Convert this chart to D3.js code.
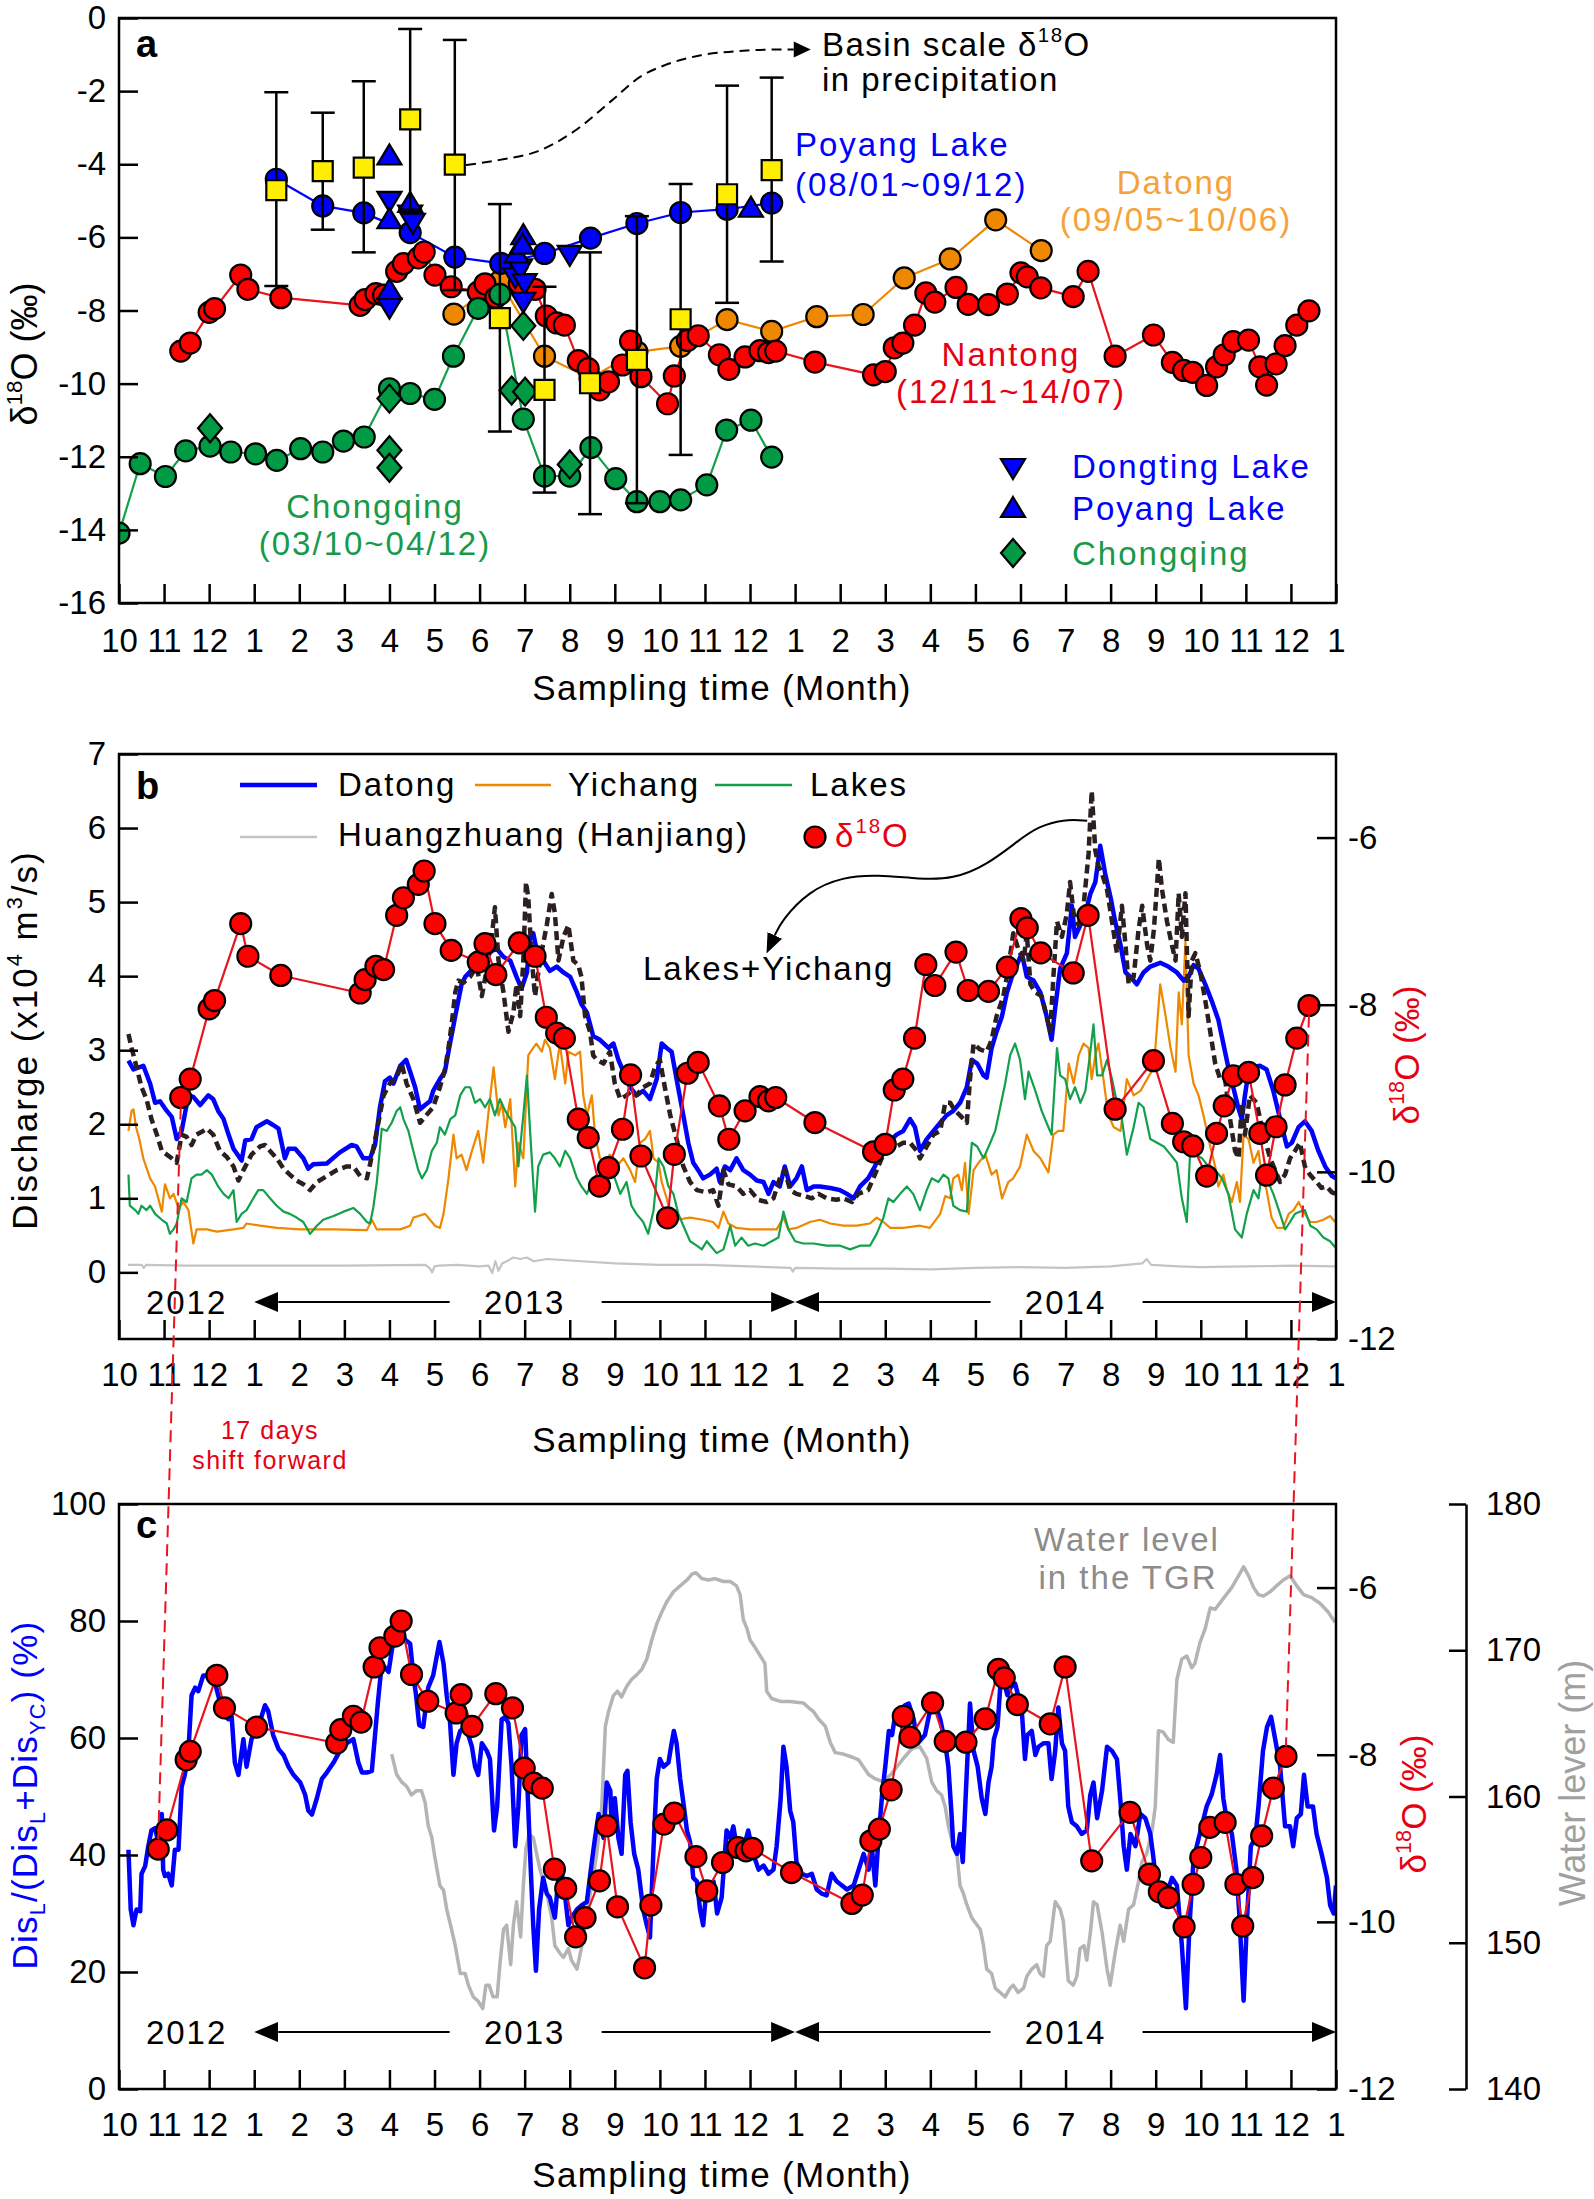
<!DOCTYPE html>
<html><head><meta charset="utf-8"><title>d18O chart</title>
<script src="https://cdn.jsdelivr.net/npm/d3@7/dist/d3.min.js"></script>
<style>html,body{margin:0;padding:0;background:#fff;}svg{display:block}</style>
</head><body>
<svg id="chart" width="1594" height="2199" xmlns="http://www.w3.org/2000/svg"></svg>
<script>
// ================= DATA (x = months since 1 Oct 2012) =================
const monthLabels = [10,11,12,1,2,3,4,5,6,7,8,9,10,11,12,1,2,3,4,5,6,7,8,9,10,11,12,1];
const yearSpans = [["2012",0,3,false],["2013",3,15,true],["2014",15,27,true]];

// ---- panel a ----
const aChongqing = [[0,-14.09],[0.47,-12.19],[1.03,-12.54],[1.48,-11.84],[2.02,-11.71],[2.48,-11.87],[3.03,-11.92],[3.5,-12.1],[4.03,-11.78],[4.52,-11.87],[4.98,-11.57],[5.44,-11.46],[6.0,-10.14],[6.46,-10.27],[7.0,-10.43],[7.42,-9.25],[7.97,-7.94],[8.45,-7.56],[8.97,-10.97],[9.44,-12.53],[10.0,-12.53],[10.47,-11.75],[11.02,-12.6],[11.49,-13.23],[12.0,-13.23],[12.46,-13.18],[13.04,-12.77],[13.48,-11.27],[14.02,-11.0],[14.48,-12.01]];
const aChongqingDiamond = [[2.02,-11.22],[6.0,-10.41],[6.0,-11.82],[6.0,-12.3],[8.97,-8.42],[8.71,-10.19],[9.01,-10.22],[10.0,-12.21]];
const aDatong = [[7.43,-8.1],[8.45,-7.2],[9.44,-9.25],[10.45,-9.85],[11.49,-9.13],[12.46,-8.98],[13.49,-8.25],[14.48,-8.57],[15.48,-8.17],[16.51,-8.11],[17.42,-7.11],[18.44,-6.59],[19.45,-5.52],[20.46,-6.36]];
const aPoyang = [[3.49,-4.41],[4.52,-5.14],[5.43,-5.33],[6.46,-5.87],[7.45,-6.54],[8.47,-6.71],[9.44,-6.44],[10.46,-6.02],[11.49,-5.62],[12.46,-5.32],[13.49,-5.23],[14.48,-5.06]];
const aPoyangTri = [[6.0,-3.76],[6.0,-5.5],[6.46,-5.06],[6.0,-7.44],[8.97,-5.94],[8.82,-6.44],[8.95,-6.2],[14.02,-5.19]];
const aDongtingTri = [[6.0,-5.0],[6.46,-5.38],[6.52,-5.6],[6.0,-7.92],[8.79,-7.09],[8.9,-6.85],[9.0,-7.25],[8.97,-7.76],[10.0,-6.48]];
// basin precipitation: [month, mean, low, high]
const aPrecip = [[3.49,-4.71,-7.33,-2.03],[4.52,-4.19,-5.79,-2.59],[5.43,-4.09,-6.41,-1.73],[6.46,-2.77,-5.24,-0.3],[7.45,-4.01,-7.44,-0.6],[8.45,-8.21,-11.31,-5.09],[9.44,-10.17,-12.98,-7.35],[10.45,-9.99,-13.57,-6.41],[11.49,-9.35,-13.27,-5.42],[12.46,-8.24,-11.95,-4.54],[13.49,-4.82,-7.79,-1.85],[14.48,-4.16,-6.66,-1.63]];
// Nantong d18O (panel a and panel b)
const nantong = [[1.37,-9.11],[1.58,-8.89],[2.0,-8.05],[2.12,-7.95],[2.7,-7.03],[2.86,-7.42],[3.59,-7.65],[5.35,-7.86],[5.46,-7.7],[5.7,-7.54],[5.87,-7.58],[6.16,-6.93],[6.31,-6.72],[6.64,-6.56],[6.77,-6.4],[7.01,-7.03],[7.37,-7.35],[7.97,-7.49],[8.12,-7.27],[8.36,-7.64],[8.88,-7.26],[9.23,-7.42],[9.48,-8.15],[9.71,-8.34],[9.88,-8.4],[10.19,-9.37],[10.41,-9.59],[10.66,-10.17],[10.86,-9.95],[11.17,-9.49],[11.35,-8.84],[11.58,-9.81],[12.17,-10.55],[12.32,-9.79],[12.61,-8.82],[12.85,-8.69],[13.32,-9.21],[13.53,-9.61],[13.89,-9.27],[14.22,-9.1],[14.41,-9.15],[14.57,-9.11],[15.44,-9.41],[16.74,-9.76],[17.0,-9.67],[17.2,-9.02],[17.39,-8.89],[17.65,-8.4],[17.9,-7.52],[18.1,-7.77],[18.57,-7.37],[18.84,-7.83],[19.29,-7.84],[19.71,-7.55],[20.01,-6.97],[20.15,-7.08],[20.45,-7.38],[21.17,-7.62],[21.5,-6.93],[22.1,-9.25],[22.95,-8.67],[23.37,-9.42],[23.62,-9.64],[23.82,-9.69],[24.13,-10.05],[24.35,-9.54],[24.52,-9.21],[24.72,-8.85],[25.06,-8.81],[25.31,-9.54],[25.46,-10.04],[25.67,-9.46],[25.87,-8.96],[26.13,-8.4],[26.4,-8.01]];

// ---- panel b (discharge, x10^4 m3/s) ----
const bDatong = [[0.21,2.86],[0.32,2.74],[0.54,2.79],[0.69,2.55],[0.8,2.29],[0.91,2.31],[1.06,2.18],[1.17,2.1],[1.28,1.8],[1.39,1.91],[1.54,2.39],[1.65,2.37],[1.8,2.26],[1.98,2.39],[2.09,2.34],[2.2,2.18],[2.32,2.07],[2.43,1.86],[2.54,1.67],[2.72,1.51],[2.8,1.78],[2.94,1.8],[3.05,1.96],[3.28,2.04],[3.42,1.99],[3.54,1.94],[3.68,1.54],[3.76,1.67],[3.91,1.67],[4.09,1.54],[4.2,1.4],[4.31,1.46],[4.61,1.47],[4.9,1.62],[5.16,1.72],[5.27,1.7],[5.42,1.54],[5.57,1.54],[5.68,1.72],[5.79,2.23],[5.9,2.58],[6.01,2.63],[6.09,2.55],[6.24,2.79],[6.37,2.87],[6.46,2.71],[6.57,2.5],[6.68,2.2],[6.79,2.26],[6.9,2.31],[6.97,2.45],[7.12,2.61],[7.23,2.71],[7.31,2.98],[7.46,3.46],[7.6,3.89],[7.68,3.99],[7.9,4.13],[8.12,4.26],[8.27,4.34],[8.38,4.37],[8.53,4.26],[8.68,4.21],[8.82,3.99],[8.93,3.83],[9.05,4.05],[9.12,4.53],[9.19,4.58],[9.3,4.26],[9.41,4.21],[9.56,4.07],[9.71,4.13],[9.86,4.05],[10.01,3.99],[10.16,3.78],[10.26,3.62],[10.38,3.51],[10.52,3.19],[10.67,3.14],[10.86,3.03],[10.97,3.09],[11.08,2.87],[11.19,2.71],[11.34,2.5],[11.48,2.39],[11.63,2.45],[11.78,2.34],[11.93,2.61],[12.04,3.09],[12.15,3.03],[12.26,2.98],[12.37,2.61],[12.52,2.12],[12.63,1.75],[12.74,1.48],[12.85,1.38],[12.96,1.27],[13.11,1.32],[13.26,1.4],[13.33,1.22],[13.44,1.43],[13.56,1.38],[13.7,1.54],[13.85,1.38],[14.0,1.32],[14.15,1.24],[14.3,1.22],[14.41,1.06],[14.52,1.22],[14.66,1.16],[14.77,1.43],[14.89,1.16],[15.03,1.27],[15.15,1.43],[15.26,1.11],[15.41,1.16],[15.55,1.16],[15.78,1.14],[16.0,1.11],[16.15,1.06],[16.3,1.0],[16.44,1.16],[16.62,1.27],[16.77,1.43],[16.92,1.64],[17.07,1.75],[17.25,1.86],[17.4,1.91],[17.55,2.07],[17.66,1.96],[17.77,1.64],[17.92,1.8],[18.07,1.91],[18.22,2.02],[18.36,2.12],[18.51,2.18],[18.66,2.29],[18.81,2.5],[18.92,2.87],[19.04,2.82],[19.18,2.66],[19.25,2.63],[19.36,3.03],[19.47,3.25],[19.59,3.46],[19.7,3.78],[19.81,3.99],[19.92,4.15],[20.03,4.31],[20.14,3.99],[20.29,3.94],[20.44,3.78],[20.58,3.46],[20.69,3.14],[20.77,3.57],[20.88,4.1],[21.03,4.31],[21.14,4.95],[21.21,4.53],[21.33,4.69],[21.44,4.85],[21.55,5.11],[21.66,5.27],[21.77,5.76],[21.88,5.38],[22.0,5.06],[22.1,4.74],[22.22,4.42],[22.33,4.05],[22.44,3.99],[22.58,3.89],[22.73,4.05],[22.88,4.13],[23.1,4.18],[23.28,4.13],[23.47,4.05],[23.62,3.94],[23.73,3.99],[23.84,4.15],[23.95,4.1],[24.1,3.89],[24.24,3.67],[24.39,3.41],[24.5,3.09],[24.61,2.77],[24.72,2.5],[24.83,2.23],[24.91,2.07],[24.98,2.39],[25.06,2.71],[25.17,2.77],[25.31,2.79],[25.46,2.74],[25.61,2.45],[25.76,2.07],[25.91,1.7],[26.02,1.75],[26.17,1.96],[26.31,2.04],[26.46,1.91],[26.61,1.64],[26.76,1.43],[26.91,1.3],[27.0,1.27]];
const bYichang = [[0.21,1.91],[0.28,2.18],[0.32,2.2],[0.38,1.96],[0.45,1.8],[0.54,1.54],[0.69,1.27],[0.8,1.16],[0.95,0.82],[1.02,1.19],[1.13,1.0],[1.21,1.06],[1.32,0.87],[1.43,0.95],[1.54,0.84],[1.65,0.39],[1.72,0.58],[1.95,0.58],[2.17,0.55],[2.54,0.58],[2.76,0.6],[2.83,0.66],[3.13,0.63],[3.5,0.6],[4.02,0.58],[4.76,0.58],[5.5,0.57],[5.61,0.71],[5.72,0.58],[6.24,0.58],[6.46,0.63],[6.53,0.74],[6.64,0.76],[6.79,0.79],[6.9,0.71],[7.01,0.63],[7.12,0.6],[7.2,0.79],[7.31,1.27],[7.42,1.86],[7.49,1.54],[7.6,1.59],[7.71,1.38],[7.83,1.64],[7.97,1.91],[8.08,1.48],[8.19,2.12],[8.31,2.77],[8.42,2.12],[8.49,2.29],[8.57,1.96],[8.68,2.34],[8.79,1.16],[8.86,1.75],[8.97,1.54],[9.08,2.93],[9.19,3.03],[9.26,3.09],[9.38,2.98],[9.45,3.14],[9.56,3.03],[9.67,2.61],[9.78,3.09],[9.9,2.55],[9.97,2.98],[10.12,2.93],[10.23,2.98],[10.3,2.39],[10.38,2.12],[10.49,2.39],[10.56,1.86],[10.67,1.54],[10.78,1.48],[10.89,1.59],[11.04,1.43],[11.19,1.54],[11.34,1.38],[11.45,1.22],[11.56,1.75],[11.67,1.8],[11.78,1.91],[11.86,1.54],[11.97,1.48],[12.04,1.22],[12.15,1.0],[12.26,0.74],[12.37,0.71],[12.67,0.74],[12.96,0.71],[13.18,0.68],[13.3,0.6],[13.41,0.82],[13.52,0.66],[13.7,0.6],[14.0,0.58],[14.3,0.58],[14.59,0.58],[14.74,0.74],[14.85,0.58],[15.03,0.6],[15.33,0.68],[15.55,0.71],[15.78,0.66],[16.07,0.63],[16.37,0.63],[16.66,0.66],[16.81,0.74],[16.96,0.68],[17.11,0.6],[17.4,0.6],[17.77,0.63],[17.99,0.6],[18.22,0.79],[18.33,1.03],[18.44,1.0],[18.51,1.27],[18.62,1.32],[18.7,1.11],[18.77,1.48],[18.85,0.79],[18.96,1.38],[19.07,1.48],[19.22,1.59],[19.36,1.32],[19.47,1.38],[19.59,1.0],[19.73,1.22],[19.84,1.27],[19.99,1.43],[20.14,1.86],[20.29,1.64],[20.44,1.54],[20.62,1.35],[20.73,1.86],[20.84,1.91],[20.95,1.91],[21.07,2.82],[21.18,2.55],[21.29,2.93],[21.4,3.09],[21.51,3.03],[21.58,2.61],[21.66,2.93],[21.73,3.09],[21.84,2.61],[21.95,2.12],[22.07,1.96],[22.22,1.91],[22.36,2.61],[22.51,2.39],[22.66,2.45],[22.81,2.61],[22.96,2.77],[23.1,3.89],[23.22,3.46],[23.33,3.03],[23.44,2.71],[23.51,3.78],[23.58,3.35],[23.66,4.47],[23.73,2.93],[23.84,2.55],[23.95,2.39],[24.06,2.12],[24.21,1.7],[24.32,1.43],[24.39,1.16],[24.5,1.32],[24.58,1.11],[24.69,0.95],[24.8,1.22],[24.87,0.95],[24.95,1.86],[25.06,1.8],[25.17,1.48],[25.28,1.64],[25.35,1.32],[25.46,1.11],[25.57,0.74],[25.69,0.6],[25.83,0.6],[25.95,0.79],[26.06,0.84],[26.17,0.95],[26.28,0.82],[26.43,0.68],[26.57,0.68],[26.72,0.71],[26.87,0.76],[26.98,0.68]];
const bLakes = [[0.21,1.32],[0.24,0.9],[0.36,0.84],[0.43,0.79],[0.5,0.9],[0.61,0.84],[0.69,0.9],[0.8,0.79],[0.95,0.71],[1.06,0.66],[1.13,0.52],[1.21,0.58],[1.28,0.66],[1.39,1.0],[1.5,0.95],[1.61,1.27],[1.72,1.32],[1.83,1.32],[1.95,1.38],[2.06,1.32],[2.2,1.16],[2.32,1.06],[2.43,1.0],[2.54,1.11],[2.61,0.68],[2.72,0.79],[2.83,0.84],[2.98,1.0],[3.09,1.11],[3.2,1.11],[3.35,1.0],[3.5,0.9],[3.65,0.82],[3.79,0.79],[3.94,0.74],[4.09,0.68],[4.24,0.52],[4.39,0.63],[4.53,0.71],[4.76,0.76],[4.98,0.82],[5.2,0.87],[5.35,0.79],[5.5,0.68],[5.57,0.66],[5.64,0.87],[5.72,1.22],[5.83,1.94],[5.94,1.91],[6.05,2.02],[6.16,2.18],[6.24,2.23],[6.31,2.07],[6.42,1.91],[6.53,1.64],[6.64,1.38],[6.72,1.27],[6.83,1.38],[6.94,1.64],[7.05,1.75],[7.12,1.96],[7.23,1.86],[7.35,2.07],[7.46,2.12],[7.57,2.39],[7.68,2.5],[7.79,2.5],[7.9,2.29],[8.01,2.34],[8.12,2.23],[8.23,2.34],[8.34,2.12],[8.45,2.34],[8.57,2.18],[8.68,2.07],[8.79,1.96],[8.86,1.43],[8.97,2.12],[9.05,2.66],[9.12,1.91],[9.23,0.82],[9.3,1.43],[9.41,1.59],[9.56,1.62],[9.67,1.54],[9.78,1.43],[9.9,1.64],[10.01,1.54],[10.16,1.27],[10.26,1.16],[10.38,1.06],[10.52,1.27],[10.64,1.06],[10.78,1.22],[10.89,1.38],[11.0,1.27],[11.12,1.06],[11.26,1.22],[11.37,0.9],[11.48,0.79],[11.63,0.68],[11.74,0.52],[11.86,0.84],[11.97,1.54],[12.08,1.43],[12.19,1.16],[12.3,1.06],[12.41,0.79],[12.52,0.63],[12.67,0.42],[12.82,0.36],[12.93,0.31],[13.04,0.42],[13.15,0.34],[13.26,0.26],[13.41,0.31],[13.56,0.63],[13.67,0.36],[13.81,0.47],[13.96,0.36],[14.11,0.39],[14.3,0.36],[14.48,0.42],[14.63,0.47],[14.74,0.82],[14.85,0.58],[15.0,0.42],[15.18,0.39],[15.41,0.39],[15.7,0.36],[16.0,0.36],[16.22,0.31],[16.44,0.36],[16.66,0.36],[16.81,0.52],[16.96,0.74],[17.07,1.0],[17.18,0.95],[17.33,1.06],[17.48,1.16],[17.62,1.06],[17.77,0.84],[17.92,1.11],[18.03,1.27],[18.18,1.22],[18.29,1.32],[18.4,1.27],[18.51,0.9],[18.66,0.84],[18.81,0.82],[18.92,1.75],[19.04,1.7],[19.18,1.54],[19.33,1.75],[19.44,1.91],[19.55,2.23],[19.66,2.55],[19.77,2.93],[19.88,3.09],[19.99,2.87],[20.1,2.34],[20.18,2.71],[20.33,2.45],[20.47,2.18],[20.62,1.96],[20.69,1.86],[20.81,3.03],[20.88,2.66],[20.99,2.61],[21.1,2.34],[21.21,2.5],[21.33,2.29],[21.44,2.45],[21.55,2.98],[21.62,3.35],[21.7,2.66],[21.81,2.66],[21.92,2.87],[22.03,2.61],[22.14,2.29],[22.25,2.07],[22.36,1.59],[22.51,1.96],[22.62,2.29],[22.73,2.23],[22.88,1.8],[23.03,1.75],[23.18,1.7],[23.33,1.59],[23.47,1.48],[23.58,1.0],[23.69,0.68],[23.77,1.7],[23.88,1.59],[24.03,1.54],[24.17,1.43],[24.32,1.38],[24.47,1.27],[24.61,1.06],[24.76,0.58],[24.91,0.47],[25.02,0.79],[25.17,1.11],[25.28,1.0],[25.35,1.32],[25.46,1.27],[25.61,1.06],[25.76,0.79],[25.87,0.58],[25.98,0.68],[26.09,0.79],[26.2,0.82],[26.31,0.84],[26.43,0.63],[26.57,0.58],[26.72,0.47],[26.87,0.42],[26.98,0.34]];
const bLakesYichang = [[0.21,3.22],[0.28,3.03],[0.39,2.77],[0.5,2.5],[0.61,2.34],[0.72,2.07],[0.84,1.86],[0.95,1.64],[1.06,1.59],[1.17,1.54],[1.28,1.48],[1.39,1.86],[1.5,1.83],[1.61,1.72],[1.72,1.86],[1.87,1.91],[1.95,1.94],[2.09,1.86],[2.24,1.64],[2.39,1.56],[2.54,1.43],[2.65,1.24],[2.76,1.38],[2.94,1.59],[3.13,1.7],[3.24,1.72],[3.35,1.64],[3.5,1.54],[3.65,1.4],[3.79,1.32],[3.94,1.24],[4.09,1.19],[4.24,1.11],[4.39,1.22],[4.61,1.3],[4.83,1.38],[5.05,1.43],[5.2,1.43],[5.35,1.3],[5.5,1.27],[5.57,1.46],[5.72,1.91],[5.87,2.39],[6.01,2.55],[6.16,2.63],[6.27,2.82],[6.38,2.55],[6.53,2.34],[6.68,2.02],[6.83,2.13],[6.97,2.23],[7.12,2.5],[7.23,2.74],[7.31,3.03],[7.38,3.35],[7.46,3.78],[7.53,3.94],[7.64,3.91],[7.79,3.99],[7.94,4.13],[8.05,3.73],[8.16,4.1],[8.27,4.53],[8.34,4.93],[8.42,4.21],[8.53,3.78],[8.64,3.25],[8.75,3.51],[8.82,3.89],[8.9,3.46],[8.97,4.21],[9.03,5.27],[9.08,5.06],[9.16,4.21],[9.23,3.73],[9.34,4.21],[9.49,4.69],[9.6,5.11],[9.67,4.85],[9.75,4.21],[9.86,4.53],[9.97,4.69],[10.08,4.21],[10.19,4.15],[10.26,3.99],[10.34,3.46],[10.45,3.25],[10.52,2.93],[10.6,2.87],[10.75,2.82],[10.89,2.98],[11.0,2.55],[11.12,2.34],[11.26,2.39],[11.37,2.45],[11.48,2.39],[11.63,2.5],[11.78,2.55],[11.89,2.77],[12.0,2.87],[12.11,2.5],[12.23,2.12],[12.37,1.8],[12.52,1.43],[12.67,1.22],[12.82,1.11],[13.04,1.08],[13.18,1.11],[13.3,0.9],[13.41,1.38],[13.52,1.19],[13.7,1.16],[13.85,1.06],[14.0,1.11],[14.18,0.98],[14.37,0.95],[14.52,1.0],[14.66,1.27],[14.77,1.38],[14.89,1.11],[15.03,1.06],[15.22,1.03],[15.37,1.0],[15.52,1.06],[15.7,1.0],[15.92,0.98],[16.07,1.0],[16.26,0.95],[16.4,1.06],[16.62,1.11],[16.77,1.32],[16.92,1.54],[17.07,1.64],[17.25,1.7],[17.4,1.75],[17.55,1.75],[17.7,1.64],[17.77,1.54],[17.92,1.7],[18.07,1.86],[18.22,1.91],[18.33,2.29],[18.44,2.29],[18.55,2.18],[18.66,2.12],[18.81,2.02],[18.88,2.61],[18.96,3.09],[19.1,3.01],[19.25,2.98],[19.36,3.14],[19.47,3.46],[19.62,3.73],[19.73,4.1],[19.84,4.58],[19.95,4.37],[20.07,4.21],[20.14,4.58],[20.22,3.89],[20.33,3.78],[20.47,3.73],[20.58,3.46],[20.66,3.25],[20.73,3.99],[20.81,4.74],[20.92,4.53],[21.03,4.85],[21.1,5.27],[21.18,4.85],[21.29,4.69],[21.4,4.95],[21.51,5.65],[21.58,6.5],[21.66,5.7],[21.73,5.49],[21.81,5.38],[21.92,5.17],[22.03,4.74],[22.14,4.31],[22.25,4.95],[22.33,4.42],[22.4,3.89],[22.51,3.99],[22.62,4.63],[22.7,4.95],[22.81,4.42],[22.88,4.21],[22.96,4.63],[23.07,5.59],[23.14,5.17],[23.25,4.74],[23.36,4.42],[23.44,4.21],[23.51,5.12],[23.58,4.53],[23.66,5.12],[23.73,3.46],[23.8,4.21],[23.88,4.31],[23.99,4.05],[24.1,3.67],[24.21,3.25],[24.32,2.82],[24.43,2.61],[24.54,2.61],[24.65,2.07],[24.76,1.64],[24.84,1.54],[24.91,2.29],[24.98,1.86],[25.09,2.39],[25.24,2.29],[25.39,1.86],[25.54,1.54],[25.65,1.38],[25.76,1.22],[25.87,1.32],[25.98,1.54],[26.09,1.64],[26.2,1.75],[26.31,1.43],[26.42,1.32],[26.57,1.22],[26.68,1.14],[26.79,1.16],[26.91,1.08],[27.0,1.06]];
const bHuangzhuang = [[0.2,0.1],[0.5,0.1],[0.55,0.06],[0.6,0.1],[1.5,0.09],[3.0,0.09],[5.0,0.09],[6.8,0.1],[6.9,0.05],[6.95,0.0],[7.0,0.08],[7.1,0.09],[7.5,0.1],[8.0,0.08],[8.2,0.09],[8.28,-0.01],[8.35,0.15],[8.42,0.02],[8.5,0.12],[8.6,0.15],[8.75,0.2],[8.9,0.18],[9.05,0.2],[9.2,0.15],[9.5,0.18],[10,0.16],[11,0.12],[12,0.1],[13,0.1],[14,0.08],[14.9,0.06],[14.95,0.01],[15.0,0.06],[16,0.05],[17,0.05],[18,0.04],[19,0.06],[20,0.07],[21,0.06],[22,0.08],[22.7,0.12],[22.8,0.18],[22.9,0.1],[23.5,0.08],[24,0.07],[25,0.08],[26,0.09],[27,0.08]];

// ---- panel c ----
const cRatio = [[0.21,40.9],[0.26,30.7],[0.32,28.0],[0.39,30.7],[0.47,30.4],[0.5,36.8],[0.58,38.1],[0.65,41.5],[0.72,44.2],[0.8,44.6],[0.89,41.5],[0.95,47.0],[0.98,37.5],[1.02,36.4],[1.09,36.8],[1.17,34.8],[1.24,40.9],[1.32,40.9],[1.39,51.7],[1.46,53.7],[1.54,57.8],[1.61,67.3],[1.69,68.6],[1.76,68.0],[1.87,70.7],[1.98,70.7],[2.09,70.7],[2.2,67.3],[2.32,63.9],[2.43,63.2],[2.5,63.6],[2.57,55.8],[2.65,53.7],[2.76,59.8],[2.83,55.1],[2.94,59.8],[3.09,61.9],[3.24,65.6],[3.31,64.6],[3.42,60.5],[3.54,58.1],[3.65,57.1],[3.76,55.1],[3.87,53.7],[4.02,52.4],[4.13,50.3],[4.2,47.6],[4.28,46.9],[4.39,49.7],[4.5,53.0],[4.61,54.1],[4.76,55.8],[4.9,57.8],[5.05,59.1],[5.2,59.8],[5.31,55.8],[5.39,54.1],[5.5,54.1],[5.61,54.4],[5.68,60.5],[5.75,66.6],[5.83,72.7],[5.98,71.3],[6.09,76.8],[6.24,79.1],[6.35,76.8],[6.46,76.1],[6.53,70.7],[6.59,67.3],[6.66,62.2],[6.75,61.9],[6.86,68.6],[6.97,70.7],[7.11,76.4],[7.2,72.7],[7.27,67.3],[7.34,63.2],[7.42,53.7],[7.49,59.1],[7.57,61.2],[7.68,61.9],[7.75,60.5],[7.83,58.5],[7.9,55.1],[7.97,53.7],[8.05,59.1],[8.16,57.8],[8.23,56.4],[8.32,44.2],[8.39,48.3],[8.49,63.2],[8.57,63.6],[8.64,62.5],[8.71,55.1],[8.79,41.5],[8.86,48.3],[8.93,60.5],[9.01,61.5],[9.12,40.2],[9.19,28.0],[9.25,20.2],[9.32,30.7],[9.41,36.1],[9.49,33.4],[9.56,32.7],[9.67,29.3],[9.78,38.8],[9.87,34.8],[9.97,28.0],[10.04,29.3],[10.16,30.7],[10.26,31.4],[10.38,32.0],[10.49,38.8],[10.56,42.9],[10.64,47.0],[10.75,42.9],[10.82,52.4],[10.9,51.0],[10.93,44.9],[11.0,49.7],[11.08,42.9],[11.15,40.2],[11.23,53.7],[11.28,54.4],[11.35,45.6],[11.43,40.2],[11.52,37.5],[11.63,30.7],[11.71,28.0],[11.78,25.9],[11.86,41.5],[11.93,53.0],[12.0,56.4],[12.08,55.1],[12.19,55.8],[12.26,59.1],[12.31,61.2],[12.37,59.1],[12.45,53.0],[12.52,49.0],[12.6,44.2],[12.67,42.2],[12.74,36.1],[12.82,35.5],[12.89,30.7],[12.96,28.0],[13.04,34.8],[13.11,32.7],[13.19,35.5],[13.27,30.0],[13.37,32.7],[13.48,44.2],[13.56,42.9],[13.63,44.9],[13.7,41.5],[13.85,40.9],[13.96,44.2],[14.07,40.2],[14.19,37.5],[14.3,38.2],[14.41,36.8],[14.52,37.5],[14.59,41.5],[14.68,49.7],[14.74,58.5],[14.81,55.1],[14.89,47.6],[14.96,45.6],[15.03,38.8],[15.15,36.8],[15.26,36.4],[15.37,36.8],[15.48,34.1],[15.59,33.4],[15.7,33.1],[15.81,36.8],[15.92,35.5],[16.04,34.8],[16.15,34.1],[16.3,34.8],[16.41,37.5],[16.52,40.2],[16.63,37.5],[16.7,41.5],[16.78,34.8],[16.85,42.9],[16.93,50.3],[17.0,55.1],[17.08,61.2],[17.15,60.5],[17.22,63.9],[17.33,64.6],[17.44,65.6],[17.52,65.9],[17.63,63.2],[17.72,59.1],[17.88,60.5],[17.99,64.6],[18.1,65.9],[18.22,63.2],[18.33,59.1],[18.4,55.1],[18.47,47.0],[18.51,41.5],[18.59,40.2],[18.66,43.6],[18.72,38.8],[18.79,51.0],[18.88,65.9],[18.96,57.8],[19.05,55.1],[19.14,49.7],[19.22,47.0],[19.29,52.4],[19.36,55.1],[19.41,59.8],[19.49,61.9],[19.55,68.6],[19.62,70.0],[19.71,67.3],[19.78,68.6],[19.88,69.3],[19.95,67.3],[20.03,64.6],[20.1,56.4],[20.15,60.5],[20.25,61.2],[20.33,57.1],[20.4,58.5],[20.51,59.1],[20.62,59.1],[20.69,53.0],[20.77,57.8],[20.84,65.2],[20.92,59.1],[20.99,57.8],[21.06,48.3],[21.14,45.6],[21.25,44.9],[21.36,43.6],[21.47,44.2],[21.55,50.3],[21.62,52.4],[21.7,46.3],[21.81,51.0],[21.92,58.5],[22.03,57.8],[22.14,56.4],[22.22,49.0],[22.29,41.5],[22.36,37.5],[22.44,43.6],[22.55,41.5],[22.66,47.0],[22.77,46.3],[22.88,43.6],[22.95,39.5],[23.04,32.7],[23.14,31.4],[23.25,33.4],[23.36,36.1],[23.47,34.8],[23.58,24.6],[23.67,13.8],[23.75,28.0],[23.83,38.1],[23.91,41.5],[24.02,44.9],[24.13,48.3],[24.24,50.3],[24.35,53.7],[24.43,57.1],[24.5,49.7],[24.57,46.3],[24.69,43.6],[24.79,37.5],[24.86,29.3],[24.95,15.1],[25.02,28.0],[25.11,41.5],[25.21,42.9],[25.28,48.3],[25.38,57.8],[25.47,61.9],[25.56,63.6],[25.65,59.8],[25.76,55.1],[25.87,44.9],[25.98,44.9],[26.05,41.5],[26.13,46.3],[26.22,47.0],[26.29,53.7],[26.37,48.3],[26.49,48.3],[26.57,43.6],[26.68,40.2],[26.8,36.1],[26.87,31.4],[26.95,30.0],[27.0,34.8]];
const cWaterLevel = [[6.05,162.9],[6.16,161.5],[6.27,161.0],[6.38,160.7],[6.49,160.1],[6.6,160.4],[6.71,160.4],[6.79,159.6],[6.86,158.0],[6.94,157.2],[7.01,155.8],[7.12,153.9],[7.2,153.6],[7.27,152.3],[7.38,150.9],[7.46,149.8],[7.57,147.9],[7.68,147.9],[7.75,147.1],[7.86,146.3],[7.97,146.0],[8.07,145.5],[8.14,147.1],[8.21,147.1],[8.3,146.3],[8.39,146.3],[8.45,148.5],[8.53,150.9],[8.6,151.2],[8.69,148.5],[8.75,151.2],[8.82,152.8],[8.91,150.4],[8.97,153.9],[9.03,156.5],[9.1,157.4],[9.19,157.2],[9.34,155.0],[9.49,153.4],[9.6,151.7],[9.67,149.8],[9.78,149.3],[9.86,149.0],[9.97,149.6],[10.04,148.8],[10.16,148.2],[10.27,149.8],[10.38,152.0],[10.49,153.9],[10.6,156.1],[10.71,159.3],[10.79,164.8],[10.86,165.8],[10.97,166.9],[11.06,167.2],[11.15,166.8],[11.26,167.5],[11.37,168.0],[11.48,168.3],[11.6,168.7],[11.71,169.4],[11.82,170.7],[11.93,171.8],[12.04,172.6],[12.15,173.3],[12.3,174.0],[12.45,174.4],[12.6,174.8],[12.71,175.2],[12.8,175.3],[12.93,174.9],[13.08,174.8],[13.22,174.9],[13.41,174.7],[13.56,174.7],[13.7,174.4],[13.78,173.8],[13.85,172.1],[13.93,171.5],[14.0,170.7],[14.11,170.2],[14.23,169.6],[14.33,169.1],[14.37,167.2],[14.48,166.7],[14.67,166.5],[14.89,166.5],[15.18,166.4],[15.29,166.1],[15.41,165.8],[15.52,165.3],[15.67,164.8],[15.78,163.7],[15.89,163.0],[16.07,162.9],[16.26,162.7],[16.41,162.5],[16.52,162.0],[16.63,161.5],[16.78,161.2],[16.96,161.0],[17.15,161.6],[17.4,162.6],[17.6,163.3],[17.77,163.4],[17.92,162.6],[18.03,161.0],[18.14,160.4],[18.25,160.1],[18.33,159.3],[18.4,158.0],[18.51,156.6],[18.59,156.1],[18.66,153.9],[18.73,153.4],[18.81,152.6],[18.92,151.7],[19.04,151.2],[19.11,150.9],[19.18,149.8],[19.25,148.2],[19.36,147.9],[19.44,146.9],[19.55,146.6],[19.66,146.3],[19.77,146.9],[19.84,147.1],[19.95,146.6],[20.07,146.9],[20.14,147.7],[20.25,148.2],[20.36,148.5],[20.43,147.9],[20.51,147.7],[20.58,149.8],[20.66,150.1],[20.77,152.8],[20.88,152.3],[20.95,151.5],[21.06,147.4],[21.17,147.1],[21.25,147.7],[21.32,149.6],[21.41,149.8],[21.47,148.8],[21.55,150.7],[21.62,152.8],[21.7,152.6],[21.81,150.7],[21.92,148.2],[21.99,147.1],[22.1,149.3],[22.21,151.2],[22.29,150.1],[22.4,152.3],[22.51,152.6],[22.62,154.2],[22.69,155.5],[22.8,156.1],[22.92,157.7],[22.99,159.3],[23.06,164.5],[23.17,164.4],[23.28,163.9],[23.39,163.7],[23.47,168.0],[23.58,169.4],[23.69,169.6],[23.8,168.8],[23.87,169.1],[23.98,170.5],[24.1,171.5],[24.21,172.9],[24.32,172.8],[24.54,173.7],[24.69,174.3],[24.84,175.1],[24.95,175.7],[25.06,175.1],[25.17,174.3],[25.28,173.8],[25.39,173.7],[25.54,174.0],[25.68,174.4],[25.83,174.8],[25.98,175.1],[26.13,174.4],[26.28,173.8],[26.46,173.6],[26.65,173.2],[26.83,172.6],[26.98,171.9]];
const cD18O = [[0.87,-9.13],[1.06,-8.9],[1.49,-8.06],[1.58,-7.96],[2.17,-7.05],[2.34,-7.44],[3.05,-7.67],[4.83,-7.86],[4.92,-7.7],[5.2,-7.54],[5.37,-7.61],[5.66,-6.95],[5.79,-6.72],[6.12,-6.58],[6.26,-6.4],[6.49,-7.04],[6.85,-7.36],[7.48,-7.5],[7.59,-7.28],[7.83,-7.66],[8.36,-7.27],[8.73,-7.44],[8.99,-8.16],[9.2,-8.34],[9.39,-8.4],[9.66,-9.37],[9.91,-9.6],[10.13,-10.18],[10.34,-9.95],[10.66,-9.51],[10.82,-8.85],[11.06,-9.82],[11.66,-10.55],[11.8,-9.8],[12.09,-8.83],[12.32,-8.7],[12.8,-9.22],[13.04,-9.63],[13.39,-9.29],[13.73,-9.11],[13.91,-9.15],[14.05,-9.12],[14.92,-9.41],[16.26,-9.78],[16.49,-9.68],[16.68,-9.03],[16.87,-8.89],[17.13,-8.42],[17.4,-7.54],[17.55,-7.79],[18.05,-7.38],[18.33,-7.84],[18.79,-7.85],[19.22,-7.57],[19.51,-6.98],[19.64,-7.08],[19.93,-7.4],[20.66,-7.63],[20.99,-6.95],[21.58,-9.27],[22.43,-8.69],[22.86,-9.43],[23.08,-9.64],[23.28,-9.71],[23.63,-10.06],[23.83,-9.55],[24.0,-9.23],[24.2,-8.87],[24.54,-8.81],[24.78,-9.55],[24.93,-10.05],[25.15,-9.47],[25.35,-8.97],[25.61,-8.4],[25.89,-8.02]];

// ================= DRAWING =================
const FONT = '"Liberation Sans", Arial, Helvetica, sans-serif';
const C = {blue:"#0000ff", red:"#ff0000", redLine:"#e8141e", redText:"#e60012", orange:"#ee8800", orangeText:"#f5a23a",
  green:"#009944", greenLine:"#13a04c", greenText:"#189a4a", yellow:"#ffee00", grey:"#c4c4c4", wl:"#b4b4b4", wlText:"#8c8c8c", dash:"#2b1f1f"};
const svg = d3.select("#chart");
svg.append("rect").attr("width",1594).attr("height",2199).attr("fill","#fff");
const defs = svg.append("defs");
function marker(id,len,wid){
  defs.append("marker").attr("id",id).attr("viewBox",`0 0 ${len} ${wid}`).attr("refX",0).attr("refY",wid/2)
    .attr("markerWidth",len).attr("markerHeight",wid).attr("markerUnits","userSpaceOnUse").attr("orient","auto")
    .append("path").attr("d",`M0,0L${len},${wid/2}L0,${wid}Z`).attr("fill","#000");
}
marker("ahYear",24,20); marker("ahSmall",16,14); marker("ahCurve",20,16);

const X0=119, X1=1336;
const x = d3.scaleLinear().domain([0,27]).range([X0,X1]);
const PA={top:18,bottom:603}, PB={top:754,bottom:1339}, PC={top:1504,bottom:2089};
const yA  = d3.scaleLinear().domain([-16,0]).range([PA.bottom,PA.top]);
const yB  = d3.scaleLinear().domain([-0.9,7]).range([PB.bottom,PB.top]);
const yBr = d3.scaleLinear().domain([-12,-5]).range([PB.bottom,PB.top]);
const yC  = d3.scaleLinear().domain([0,100]).range([PC.bottom,PC.top]);
const yCr = d3.scaleLinear().domain([-12,-5]).range([PC.bottom,PC.top]);
const yCw = d3.scaleLinear().domain([140,180]).range([PC.bottom,PC.top]);

function txt(g, s, xp, yp, o={}){
  const t = g.append("text").attr("x",xp).attr("y",yp).attr("font-family",FONT)
    .attr("font-size",o.fs||33).attr("fill",o.fill||"#000").attr("text-anchor",o.anchor||"start")
    .attr("letter-spacing",o.ls||0).attr("font-weight",o.bold?"bold":"normal");
  if (typeof s === "string") t.text(s);
  else {
    const fs=o.fs||33; let shift=0;
    s.forEach(p=>{
      const target = p.sup ? -0.42*fs : (p.sub ? 0.25*fs : 0);
      const ts = t.append("tspan").text(p.t);
      if (target!==shift){ ts.attr("dy", target-shift); shift=target; }
      if (p.sup||p.sub) ts.attr("font-size", fs*0.62);
    });
  }
  if (o.rotate) t.attr("transform",`rotate(-90,${xp},${yp})`);
  return t;
}
function vtitle(g, parts, cx, cy, o){
  const fs=o.fs||35;
  const xp = cx + 0.36*fs;
  return txt(g, parts, xp, cy, Object.assign({}, o, {anchor:"middle", rotate:true}));
}
function linePath(g, data, xs, ys, color, w, dash){
  const p = g.append("path").datum(data).attr("fill","none").attr("stroke",color).attr("stroke-width",w)
    .attr("stroke-linejoin","round").attr("stroke-linecap","butt")
    .attr("d", d3.line().x(d=>xs(d[0])).y(d=>ys(d[1])));
  if (dash) p.attr("stroke-dasharray",dash);
  return p;
}
function circles(g, data, xs, ys, fill, r){
  g.selectAll(null).data(data).join("circle").attr("cx",d=>xs(d[0])).attr("cy",d=>ys(d[1]))
    .attr("r",r||10.5).attr("fill",fill).attr("stroke","#000").attr("stroke-width",2.2);
}
const shapes = {
  triUp:"M0,-11L12,9L-12,9Z", triDown:"M0,11L12,-9L-12,-9Z",
  diamond:"M0,-14L12,0L0,14L-12,0Z", square:"M-10,-10H10V10H-10Z"
};
function symbols(g, data, xs, ys, shape, fill){
  g.selectAll(null).data(data).join("path").attr("d",shapes[shape])
    .attr("transform",d=>`translate(${xs(d[0])},${ys(d[1])})`)
    .attr("fill",fill).attr("stroke","#000").attr("stroke-width",2.2).attr("stroke-linejoin","miter");
}
function xAxis(g, yPos, pad){
  const ax = d3.axisBottom(x).tickValues(d3.range(28)).tickFormat(i=>monthLabels[i])
    .tickSizeInner(-19).tickSizeOuter(0).tickPadding(pad);
  const a = g.append("g").attr("transform",`translate(0,${yPos})`).call(ax);
  a.select(".domain").remove();
  a.selectAll(".tick line").attr("stroke","#000").attr("stroke-width",2.5);
  a.selectAll("text").attr("font-size",33).attr("font-family",FONT).attr("fill","#000");
}
function yAxis(g, scale, xPos, vals, side, pad, keepDomain, tickLen){
  const gen = (side==="left"?d3.axisLeft(scale):d3.axisRight(scale)).tickValues(vals)
    .tickFormat(d=>String(d)).tickSizeInner(-(tickLen||19)).tickSizeOuter(0).tickPadding(pad);
  const a = g.append("g").attr("transform",`translate(${xPos},0)`).call(gen);
  if (!keepDomain) a.select(".domain").remove();
  else a.select(".domain").attr("stroke","#000").attr("stroke-width",2.5);
  a.selectAll(".tick line").attr("stroke","#000").attr("stroke-width",2.5);
  a.selectAll("text").attr("font-size",33).attr("font-family",FONT).attr("fill","#000");
}
function box(g, P){
  g.append("rect").attr("x",X0).attr("y",P.top).attr("width",X1-X0).attr("height",P.bottom-P.top)
    .attr("fill","none").attr("stroke","#000").attr("stroke-width",2.5);
}
function yearRow(g, yPos){
  yearSpans.forEach(([lab,a,b,arrows])=>{
    const cx = x((a+b)/2);
    txt(g, lab, cx, yPos+12, {anchor:"middle", fs:33, ls:2});
    if (arrows){
      g.append("line").attr("x1",cx-75).attr("x2",x(a)+24).attr("y1",yPos).attr("y2",yPos)
        .attr("stroke","#000").attr("stroke-width",2).attr("marker-end","url(#ahYear)");
      g.append("line").attr("x1",cx+77).attr("x2",x(b)-24).attr("y1",yPos).attr("y2",yPos)
        .attr("stroke","#000").attr("stroke-width",2).attr("marker-end","url(#ahYear)");
    }
  });
}
const d18 = [{t:"δ"},{t:"18",sup:true},{t:"O"}];

// ---------------- PANEL A ----------------
const ga = svg.append("g");
defs.append("clipPath").attr("id","clipA").append("rect").attr("x",X0).attr("y",PA.top).attr("width",X1-X0).attr("height",PA.bottom-PA.top);
const ia = ga.append("g").attr("clip-path","url(#clipA)");
linePath(ia, aChongqing, x, yA, C.greenLine, 2.2);
linePath(ia, aDatong, x, yA, C.orange, 2.2);
linePath(ia, nantong, x, yA, C.redLine, 2.2);
linePath(ia, aPoyang, x, yA, C.blue, 2.2);
const aCurve = [[7.7,-4.02],[8.45,-3.88],[9.3,-3.64],[10.13,-3.07],[10.93,-2.26],[11.56,-1.61],[12.11,-1.29],[12.91,-1.02],[13.93,-0.89],[14.6,-0.86],[14.97,-0.86]];
ga.append("path").datum(aCurve).attr("fill","none").attr("stroke","#000").attr("stroke-width",2)
  .attr("stroke-dasharray","10,6").attr("d", d3.line().curve(d3.curveMonotoneX).x(d=>x(d[0])).y(d=>yA(d[1])));
ga.append("path").attr("d",`M${x(14.97)},${yA(-0.86)-8}L${x(14.97)+17},${yA(-0.86)}L${x(14.97)},${yA(-0.86)+8}Z`).attr("fill","#000");
circles(ia, aDatong, x, yA, C.orange);
circles(ia, nantong, x, yA, C.red);
circles(ia, aChongqing, x, yA, C.green);
circles(ia, aPoyang, x, yA, C.blue);
symbols(ia, aChongqingDiamond, x, yA, "diamond", C.green);
symbols(ia, aDongtingTri, x, yA, "triDown", C.blue);
symbols(ia, aPoyangTri, x, yA, "triUp", C.blue);
const eb = ia.append("g").attr("stroke","#000").attr("stroke-width",2.5);
aPrecip.forEach(d=>{
  const xx=x(d[0]);
  eb.append("line").attr("x1",xx).attr("x2",xx).attr("y1",yA(d[2])).attr("y2",yA(d[3]));
  eb.append("line").attr("x1",xx-12).attr("x2",xx+12).attr("y1",yA(d[2])).attr("y2",yA(d[2]));
  eb.append("line").attr("x1",xx-12).attr("x2",xx+12).attr("y1",yA(d[3])).attr("y2",yA(d[3]));
});
symbols(ia, aPrecip.map(d=>[d[0],d[1]]), x, yA, "square", C.yellow);
xAxis(ga, PA.bottom, 26);
yAxis(ga, yA, X0, d3.range(-16,1,2), "left", 13);
box(ga, PA);
txt(ga, "a", 136, 57, {fs:38, bold:true});
vtitle(ga, [{t:"δ"},{t:"18",sup:true},{t:"O (‰)"}], 24, 354, {fs:36});
txt(ga, "Sampling time (Month)", 722, 700, {fs:35, anchor:"middle", ls:1.3});
txt(ga, [{t:"Basin scale δ"},{t:"18",sup:true},{t:"O"}], 822, 56, {fs:33, ls:1.5});
txt(ga, "in precipitation", 822, 91, {fs:33, ls:1.5});
txt(ga, "Poyang Lake", 795, 156, {fs:33, ls:2, fill:C.blue});
txt(ga, "(08/01~09/12)", 795, 196, {fs:33, ls:2, fill:C.blue});
txt(ga, "Datong", 1176, 194, {fs:33, ls:2, fill:C.orangeText, anchor:"middle"});
txt(ga, "(09/05~10/06)", 1176, 231, {fs:33, ls:2, fill:C.orangeText, anchor:"middle"});
txt(ga, "Nantong", 1011, 366, {fs:33, ls:2, fill:C.redText, anchor:"middle"});
txt(ga, "(12/11~14/07)", 1011, 403, {fs:33, ls:2, fill:C.redText, anchor:"middle"});
txt(ga, "Chongqing", 375, 518, {fs:33, ls:2, fill:C.greenText, anchor:"middle"});
txt(ga, "(03/10~04/12)", 375, 555, {fs:33, ls:2, fill:C.greenText, anchor:"middle"});
const leg = [["triDown","Dongting Lake",C.blue,C.blue,468,478],["triUp","Poyang Lake",C.blue,C.blue,508,520],["diamond","Chongqing",C.green,C.greenText,553,565]];
leg.forEach(([sh,lab,fill,tc,sy,ty])=>{
  ga.append("path").attr("d",shapes[sh]).attr("transform",`translate(1013,${sy})`).attr("fill",fill).attr("stroke","#000").attr("stroke-width",2.2);
  txt(ga, lab, 1072, ty, {fs:33, ls:2, fill:tc});
});

// ---------------- PANEL B ----------------
const gb = svg.append("g");
defs.append("clipPath").attr("id","clipB").append("rect").attr("x",X0).attr("y",PB.top).attr("width",X1-X0).attr("height",PB.bottom-PB.top);
const ib = gb.append("g").attr("clip-path","url(#clipB)");
linePath(ib, bHuangzhuang, x, yB, C.grey, 2.2);
linePath(ib, bYichang, x, yB, C.orange, 2.2);
linePath(ib, bLakes, x, yB, C.greenLine, 2.2);
linePath(ib, bDatong, x, yB, C.blue, 4.5);
linePath(ib, bLakesYichang, x, yB, C.dash, 4.5, "9,5");
linePath(ib, nantong, x, yBr, C.redLine, 2.2);
circles(ib, nantong, x, yBr, C.red);
xAxis(gb, PB.bottom, 24);
yAxis(gb, yB, X0, d3.range(0,8), "left", 13);
yAxis(gb, yBr, X1, [-6,-8,-10,-12], "right", 12);
box(gb, PB);
txt(gb, "b", 136, 799, {fs:38, bold:true});
const lgB = [[240,317,785,C.blue,4.5,"Datong",338,796],[475,551,785,C.orange,2.5,"Yichang",568,796],[715,792,785,C.greenLine,2.5,"Lakes",810,796],[240,317,837,C.grey,2.5,"Huangzhuang (Hanjiang)",338,846]];
lgB.forEach(([a,b,yy,col,w,lab,tx,ty])=>{
  gb.append("line").attr("x1",a).attr("x2",b).attr("y1",yy).attr("y2",yy).attr("stroke",col).attr("stroke-width",w);
  txt(gb, lab, tx, ty, {fs:33, ls:2});
});
gb.append("circle").attr("cx",815).attr("cy",837).attr("r",10.5).attr("fill",C.red).attr("stroke","#000").attr("stroke-width",2.2);
txt(gb, d18, 835, 847, {fs:33, ls:2, fill:C.redText});
txt(gb, "Lakes+Yichang", 643, 980, {fs:33, ls:2});
const bCurve = [[21.48,6.1],[20.95,6.12],[20.4,6.02],[19.99,5.85],[19.26,5.5],[18.5,5.31],[17.77,5.31],[16.82,5.37],[16.06,5.34],[15.3,5.15],[14.7,4.75],[14.55,4.55]];
gb.append("path").datum(bCurve).attr("fill","none").attr("stroke","#000").attr("stroke-width",2)
  .attr("marker-end","url(#ahCurve)").attr("d", d3.line().curve(d3.curveBasis).x(d=>x(d[0])).y(d=>yB(d[1])));
yearRow(gb, 1302);
vtitle(gb, [{t:"Discharge (x10"},{t:"4",sup:true},{t:" m"},{t:"3",sup:true},{t:"/s)"}], 24, 1040, {fs:35, ls:2});
vtitle(gb, [{t:"δ"},{t:"18",sup:true},{t:"O (‰)"}], 1406, 1055, {fs:35, fill:C.redText});
txt(gb, "Sampling time (Month)", 722, 1452, {fs:35, anchor:"middle", ls:1.3});
txt(gb, "17 days", 270, 1439, {fs:25, anchor:"middle", ls:1.5, fill:C.redText});
txt(gb, "shift forward", 270, 1469, {fs:25, anchor:"middle", ls:1.5, fill:C.redText});

// ---------------- PANEL C ----------------
const gc = svg.append("g");
defs.append("clipPath").attr("id","clipC").append("rect").attr("x",X0).attr("y",PC.top).attr("width",X1-X0).attr("height",PC.bottom-PC.top);
const ic = gc.append("g").attr("clip-path","url(#clipC)");
linePath(ic, cWaterLevel, x, yCw, C.wl, 3.5);
linePath(ic, cRatio, x, yC, C.blue, 4.5);
linePath(ic, cD18O, x, yCr, C.redLine, 2.2);
circles(ic, cD18O, x, yCr, C.red);
xAxis(gc, PC.bottom, 24);
yAxis(gc, yC, X0, [0,20,40,60,80,100], "left", 13);
yAxis(gc, yCr, X1, [-6,-8,-10,-12], "right", 12);
yAxis(gc, yCw, 1466, [140,150,160,170,180], "right", 20, true, 17);
box(gc, PC);
txt(gc, "c", 136, 1538, {fs:38, bold:true});
txt(gc, "Water level", 1127, 1551, {fs:33, ls:2, fill:C.wlText, anchor:"middle"});
txt(gc, "in the TGR", 1128, 1589, {fs:33, ls:2, fill:C.wlText, anchor:"middle"});
yearRow(gc, 2032);
vtitle(gc, [{t:"Dis"},{t:"L",sub:true},{t:"/(Dis"},{t:"L",sub:true},{t:"+Dis"},{t:"YC",sub:true},{t:") (%)"}], 24, 1795, {fs:35, ls:1.2, fill:C.blue});
vtitle(gc, [{t:"δ"},{t:"18",sup:true},{t:"O (‰)"}], 1413, 1804, {fs:35, fill:C.redText});
vtitle(gc, "Water lever (m)", 1572, 1783, {fs:36, fill:"#a0a0a0"});
txt(gc, "Sampling time (Month)", 722, 2187, {fs:35, anchor:"middle", ls:1.3});

// red dashed connectors (17 days shift) between panel b and panel c
const shiftPairs = [[nantong[0], cD18O[0]],[nantong[nantong.length-1], cD18O[cD18O.length-1]]];
shiftPairs.forEach(([pb,pc])=>{
  svg.append("line").attr("x1",x(pb[0])).attr("y1",yBr(pb[1])+10).attr("x2",x(pc[0])).attr("y2",yCr(pc[1])-10)
    .attr("stroke",C.redLine).attr("stroke-width",2).attr("stroke-dasharray","12,7");
});
</script>
</body></html>
